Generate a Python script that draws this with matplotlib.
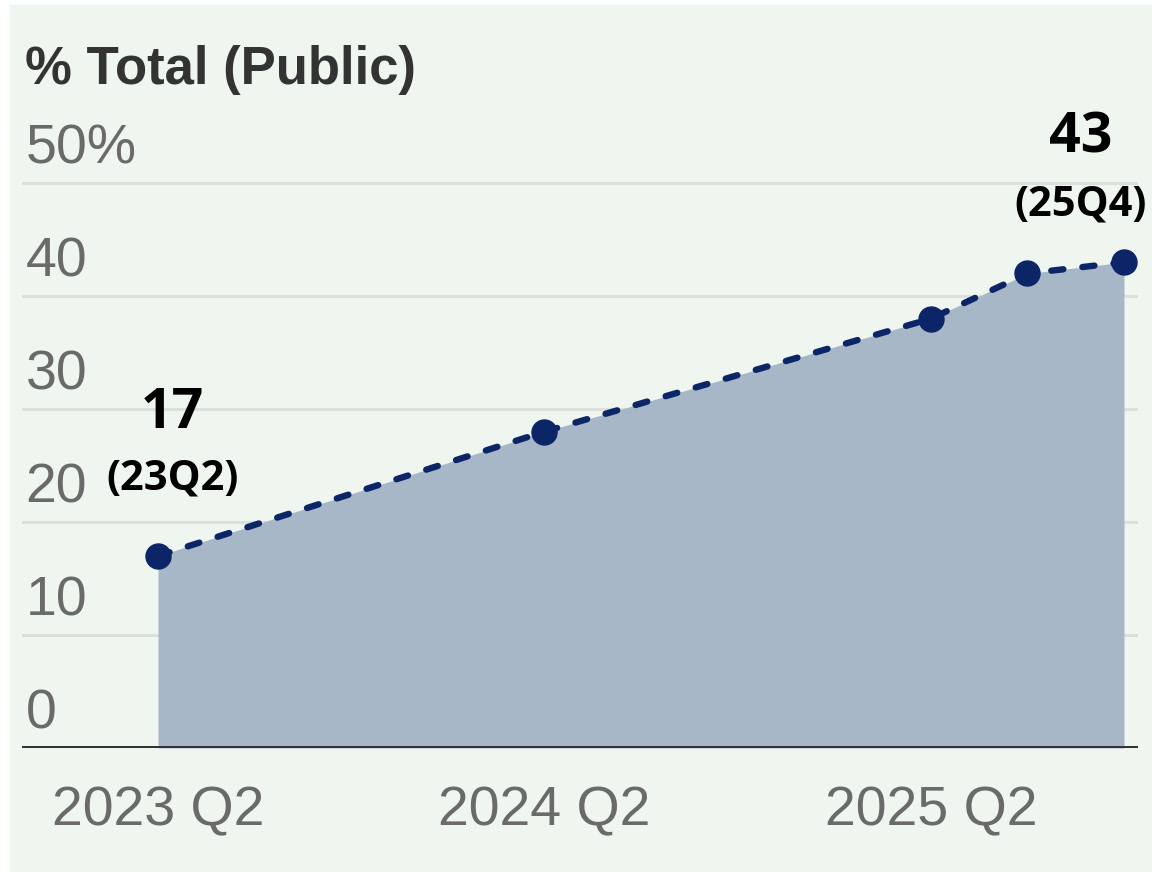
import matplotlib.pyplot as plt
from matplotlib.patches import Rectangle

# datos
trimestres = ['23Q2', '23Q3', '23Q4', '24Q1', '24Q2', '24Q3', '24Q4',
              '25Q1', '25Q2', '25Q3', '25Q4']
x_pts = [0, 4, 8, 9, 10]
valores = [17, 28, 38, 42, 43]
yticks = [0, 10, 20, 30, 40, 50]
ytick_labels = ['0', '10', '20', '30', '40', '50%']
xticks = [0, 4, 8]
xtick_labels = ['2023 Q2', '2024 Q2', '2025 Q2']

BG = '#eff6ef'
W, H = 1152, 872

fig = plt.figure(figsize=(W / 100, H / 100), dpi=100)
fig.patch.set_facecolor('white')
fig.patches.append(Rectangle((10 / W, 0), 1 - 10 / W, 1 - 5 / H,
                             transform=fig.transFigure, color=BG, zorder=-10))

ax = fig.add_axes([22 / W, (H - 748) / H, (1138 - 22) / W, (748 - 130) / H])
ax.set_facecolor('none')
ax.set_xlim(-1.408, 10.145)
ax.set_ylim(0, 54.7)

for s in ax.spines.values():
    s.set_visible(False)
ax.set_xticks([])
ax.set_yticks([])

# grid
for y in yticks[1:]:
    ax.axhline(y, color='#dbe0db', lw=2.2, zorder=1)
ax.axhline(0, color='#333333', lw=3.6, zorder=5)

# etiquetas eje y dentro del area
for y, lab in zip(yticks, ytick_labels):
    ax.text(-1.37, y + 3.0, lab, fontsize=40, color='#6a6a6a',
            family='Liberation Sans', ha='left', va='center', clip_on=False)

for x, lab in zip(xticks, xtick_labels):
    ax.text(x, -5.6, lab, fontsize=40, color='#6a6a6a',
            family='Liberation Sans', ha='center', va='center', clip_on=False)

# area y linea
ax.fill_between(x_pts, valores, 0, color='#a8b7c7', zorder=2, lw=0)
ax.plot(x_pts, valores, color='#0b2567', lw=4.6, ls=(0, (1.9, 3.0)),
        dash_capstyle='round', zorder=3)
ax.plot(x_pts, valores, ls='none', color='#0b2567', marker='o',
        markersize=18, zorder=4)

# anotaciones
ax.text(x_pts[0] + 0.15, 29.6, str(valores[0]), fontsize=40, fontweight='bold',
        family='Open Sans', ha='center', va='center', color='black')
ax.text(x_pts[0] + 0.15, 23.8, '(' + trimestres[0] + ')', fontsize=30,
        fontweight='bold', family='Open Sans', ha='center', va='center', color='black')
ax.text(x_pts[-1] - 0.45, 54.0, str(valores[-1]), fontsize=40, fontweight='bold',
        family='Open Sans', ha='center', va='center', color='black')
ax.text(x_pts[-1] - 0.45, 48.1, '(' + trimestres[-1] + ')', fontsize=30,
        fontweight='bold', family='Open Sans', ha='center', va='center', color='black')

fig.text(25 / W, 1 - 70 / H, '% Total (Public)', fontsize=38, fontweight='bold',
         color='#333333', family='Liberation Sans', ha='left', va='center')

fig.savefig('out.png', dpi=100, facecolor=fig.get_facecolor())
